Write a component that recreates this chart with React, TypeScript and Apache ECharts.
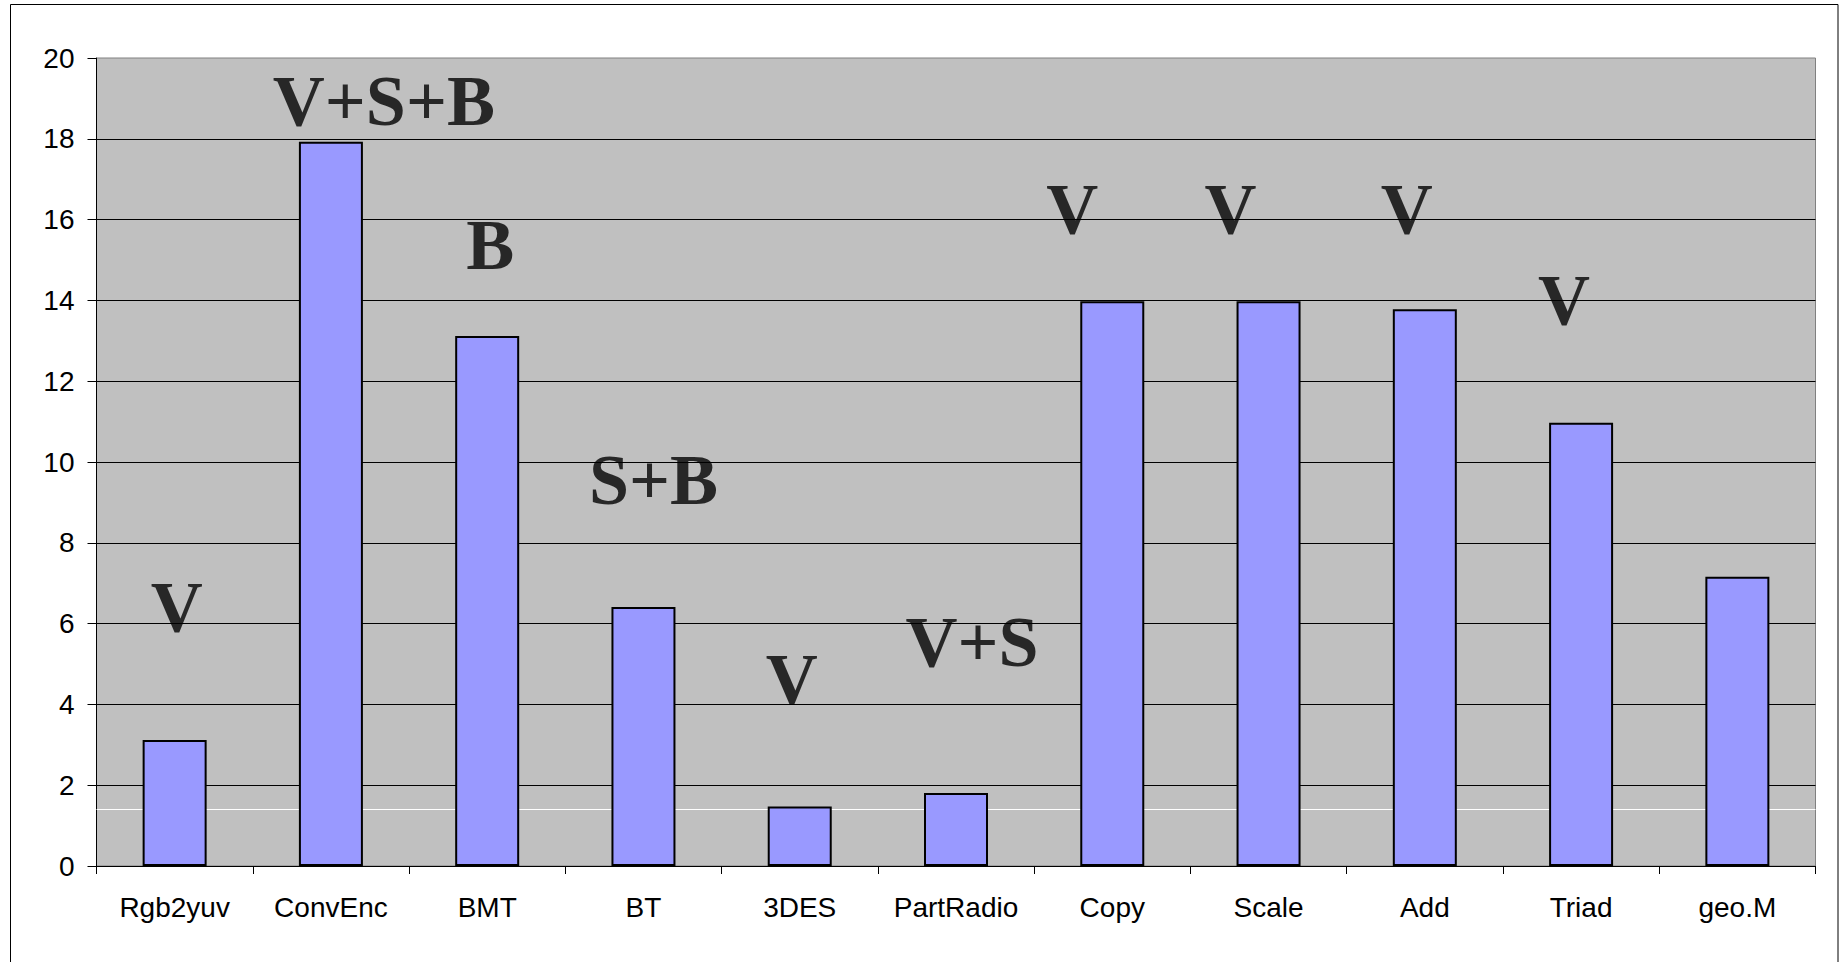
import React, { useEffect, useRef } from "react";
import * as echarts from "echarts";

// Benchmarks along the category axis
const categories = [
  "Rgb2yuv",
  "ConvEnc",
  "BMT",
  "BT",
  "3DES",
  "PartRadio",
  "Copy",
  "Scale",
  "Add",
  "Triad",
  "geo.M",
];

// Bar heights per benchmark
const speedups = [3.12, 17.93, 13.12, 6.41, 1.47, 1.81, 13.98, 13.98, 13.78, 10.97, 7.16];

// Annotation text and the axis value each annotation is centred on
const tags = ["V", "V+S+B", "B", "S+B", "V", "V+S", "V", "V", "V", "V", ""];
const tagLevels = [6.42, 18.94, 15.36, 9.55, 4.63, 5.55, 16.26, 16.26, 16.26, 14.02, null];

// Horizontal reference line drawn behind the bars
const referenceLevel = 1.4;

// Value axis range
const yMin = 0;
const yMax = 20;
const yStep = 2;

// Horizontal nudges (px) for the annotation texts
const tagNudge = [2, 53, 3, 10, -8, 16, -40, -38, -18, -17, 0];

export default function App() {
  const ref = useRef<HTMLDivElement | null>(null);

  useEffect(() => {
    if (!ref.current) return;
    const chart = echarts.init(ref.current, null, { renderer: "svg" });

    const tagData = tags.map((t, i) =>
      tagLevels[i] == null
        ? { value: [i, null] }
        : { value: [i, tagLevels[i]], name: t, label: { offset: [tagNudge[i], 0] } }
    );

    chart.setOption({
      animation: false,
      backgroundColor: "#ffffff",
      textStyle: { fontFamily: "Liberation Sans, Arial, sans-serif" },
      grid: {
        left: 96.5,
        top: 58,
        right: 25.5,
        bottom: 96,
        show: true,
        backgroundColor: "#C0C0C0",
        borderColor: "#808080",
        borderWidth: 1,
        containLabel: false,
        outerBoundsMode: "none",
      },
      xAxis: {
        type: "category",
        data: categories,
        axisLine: { show: true, lineStyle: { color: "#000", width: 1 } },
        axisTick: { show: true, length: 8, lineStyle: { color: "#000" } },
        axisLabel: {
          interval: 0,
          color: "#000",
          fontSize: 28,
          margin: 27,
          fontFamily: "Liberation Sans, Arial, sans-serif",
        },
        splitLine: { show: false },
      },
      yAxis: {
        type: "value",
        min: yMin,
        max: yMax,
        interval: yStep,
        axisLine: { show: true, lineStyle: { color: "#000", width: 1 } },
        axisTick: { show: true, length: 9, lineStyle: { color: "#000" } },
        axisLabel: {
          color: "#000",
          fontSize: 28,
          margin: 22,
          fontFamily: "Liberation Sans, Arial, sans-serif",
        },
        splitLine: {
          show: true,
          showMaxLine: false,
          lineStyle: { color: "#000", width: 1 },
        },
      },
      series: [
        {
          type: "bar",
          data: speedups,
          barWidth: 64,
          z: 3,
          itemStyle: { color: "#9999FF", borderColor: "#000", borderWidth: 2 },
          markLine: {
            z: 1,
            silent: true,
            symbol: "none",
            label: { show: false },
            lineStyle: { color: "#ffffff", width: 1, type: "solid" },
            data: [{ yAxis: referenceLevel }],
          },
        },
        {
          type: "scatter",
          data: tagData,
          z: 4,
          silent: true,
          symbolSize: 1,
          itemStyle: { color: "transparent" },
          label: {
            show: true,
            position: "inside",
            formatter: (p: any) => p.name || "",
            color: "#000",
            textBorderWidth: 0,
            fontSize: 72,
            fontWeight: "bold",
            fontFamily: "Liberation Serif, Times New Roman, serif",
          },
        },
      ],
      graphic: [
        {
          type: "rect",
          silent: true,
          shape: { x: 10.5, y: 4.5, width: 1827.5, height: 1000 },
          style: { fill: "none", stroke: "#000", lineWidth: 1 },
          z: 100,
        },
      ],
    });

    return () => chart.dispose();
  }, []);

  return (
    <div
      ref={ref}
      style={{ position: "absolute", left: 0, top: 0, width: 1841, height: 962 }}
    />
  );
}
